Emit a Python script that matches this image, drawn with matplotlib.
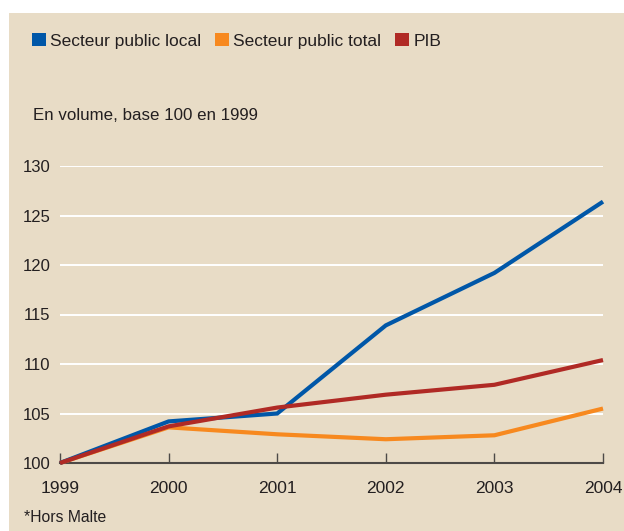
import matplotlib

matplotlib.use("Agg")

import matplotlib.pyplot as plt  # noqa: E402
from matplotlib.patches import Patch, Rectangle  # noqa: E402

years = [1999, 2000, 2001, 2002, 2003, 2004]
local = [100, 104.2, 105.0, 113.9, 119.2, 126.4]
total = [100, 103.6, 102.9, 102.4, 102.8, 105.5]
pib = [100, 103.7, 105.6, 106.9, 107.9, 110.4]
y_ticks = [100, 105, 110, 115, 120, 125, 130]

_BG = "#e8dcc6"
_TEXT = "#231f20"
_BLUE = "#0057a8"
_ORANGE = "#f7891f"
_RED = "#b02a25"
_AXIS = "#4d4a47"

plt.rcParams["font.family"] = ["Liberation Sans", "DejaVu Sans"]

fig = plt.figure(figsize=(6.24, 5.31), dpi=100)
fig.patch.set_facecolor("white")
# beige panel, with a thin white margin at the left and top like the source
fig.patches.append(Rectangle((9 / 624, 0), 1, 1 - 13 / 531, transform=fig.transFigure,
                             facecolor=_BG, edgecolor="none", zorder=-10))

ax = fig.add_axes([60 / 624, 1 - 463 / 531, (603 - 60) / 624, (463 - 166) / 531])
ax.set_facecolor("none")
ax.set_xlim(1999, 2004)
ax.set_ylim(100, 130)

for v in y_ticks[1:]:
    ax.axhline(v, color="white", lw=1.4, zorder=1)

for series, color in ((total, _ORANGE), (local, _BLUE), (pib, _RED)):
    ax.plot(years, series, color=color, lw=3, solid_capstyle="butt",
            solid_joinstyle="miter", clip_on=False, zorder=3)

for side in ("top", "right", "left"):
    ax.spines[side].set_visible(False)
ax.spines["bottom"].set_color(_AXIS)
ax.spines["bottom"].set_linewidth(1.5)
ax.spines["bottom"].set_zorder(2)

ax.set_xticks(years)
ax.set_xticklabels([str(y) for y in years])
ax.tick_params(axis="x", direction="in", length=7, width=1, color=_AXIS,
               labelsize=12.5, labelcolor=_TEXT, pad=13)
ax.set_yticks(y_ticks)
ax.tick_params(axis="y", length=0, labelsize=12, labelcolor=_TEXT, pad=7)

handles = [Patch(facecolor=_BLUE, label="Secteur public local"),
           Patch(facecolor=_ORANGE, label="Secteur public total"),
           Patch(facecolor=_RED, label="PIB")]
fig.legend(handles=handles, loc="center left", bbox_to_anchor=(32 / 624, 1 - 41 / 531),
           ncol=3, frameon=False, fontsize=12.5, handlelength=0.8, handleheight=0.8,
           handletextpad=0.25, columnspacing=0.8, borderpad=0, borderaxespad=0,
           labelcolor=_TEXT)

fig.text(33 / 624, 1 - 115 / 531, "En volume, base 100 en 1999", fontsize=12.2,
         color=_TEXT, va="center", ha="left")
fig.text(24 / 624, 1 - 517 / 531, "*Hors Malte", fontsize=11.3, color=_TEXT,
         va="center", ha="left")

fig.savefig("out.png", dpi=100, facecolor=fig.get_facecolor())
